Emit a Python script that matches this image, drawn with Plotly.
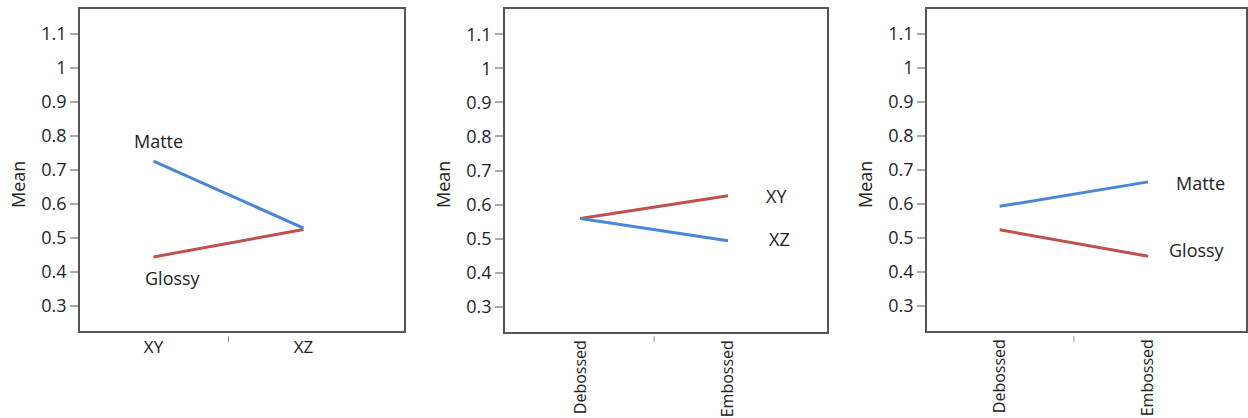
import plotly.graph_objects as go

# ---- data ----
orientation_cats = ["XY", "XZ"]
texture_cats = ["Debossed", "Embossed"]

# Panel 1: finish by orientation
p1_matte = [0.726, 0.529]
p1_glossy = [0.444, 0.525]
# Panel 2: orientation by texture
p2_xy = [0.559, 0.626]
p2_xz = [0.559, 0.494]
# Panel 3: finish by texture
p3_matte = [0.593, 0.665]
p3_glossy = [0.524, 0.446]

BLUE = "#4a86d8"
RED = "#c0504d"
TXT = "#222222"
FONT = "Open Sans"

W, H = 1248, 418

def px_x(p):
    return p / W

def px_y(p):
    return 1 - p / H

panels = [
    dict(x0=80, x1=404, y0=9, y1=331, xr=[-0.49, 1.67], cats=orientation_cats, angle=0, fs=17),
    dict(x0=505, x1=827, y0=9, y1=332, xr=[-0.51, 1.67], cats=texture_cats, angle=-90, fs=16),
    dict(x0=927, x1=1246, y0=9, y1=331, xr=[-0.49, 1.66], cats=texture_cats, angle=-90, fs=16),
]

series = [
    [(p1_glossy, RED), (p1_matte, BLUE)],
    [(p2_xy, RED), (p2_xz, BLUE)],
    [(p3_glossy, RED), (p3_matte, BLUE)],
]

labels = [
    [("Matte", 0.03, 0.785), ("Glossy", 0.13, 0.382)],
    [("XY", 1.33, 0.626), ("XZ", 1.35, 0.50)],
    [("Matte", 1.35, 0.662), ("Glossy", 1.33, 0.465)],
]

fig = go.Figure()
annotations = []
shapes = []
for i, (pan, ser, labs) in enumerate(zip(panels, series, labels), start=1):
    xa = "x" if i == 1 else f"x{i}"
    ya = "y" if i == 1 else f"y{i}"
    for vals, col in ser:
        fig.add_trace(go.Scatter(
            x=[0, 1], y=vals, mode="lines",
            line=dict(color=col, width=3),
            xaxis=xa, yaxis=ya, showlegend=False, hoverinfo="skip",
        ))
    common_line = dict(showline=True, linecolor="#555555", linewidth=1.5, mirror=True,
                       showgrid=False, zeroline=False, automargin=False)
    fig.layout[f"xaxis{'' if i == 1 else i}"] = dict(
        domain=[px_x(pan["x0"]), px_x(pan["x1"])],
        anchor=ya, range=pan["xr"],
        tickmode="array", tickvals=[0, 1], ticktext=pan["cats"],
        ticks="", tickangle=pan["angle"],
        tickfont=dict(family=FONT, size=pan["fs"], color=TXT),
        **common_line,
    )
    fig.layout[f"yaxis{'' if i == 1 else i}"] = dict(
        domain=[px_y(pan["y1"]), px_y(pan["y0"])],
        anchor=xa, range=[0.226, 1.174],
        tickmode="array",
        tickvals=[0.3, 0.4, 0.5, 0.6, 0.7, 0.8, 0.9, 1.0, 1.1],
        ticktext=["0.3", "0.4", "0.5", "0.6", "0.7", "0.8", "0.9", "1", "1.1"],
        ticks="outside", ticklen=8, tickcolor="#aaaaaa", tickwidth=1.5,
        tickfont=dict(family=FONT, size=18, color="#1e1e2e"),
        **common_line,
    )
    # separator tick between categories
    shapes.append(dict(type="line", xref=xa, yref="paper", x0=0.5, x1=0.5,
                       y0=px_y(336), y1=px_y(342),
                       line=dict(color="#999999", width=1)))
    # y title
    annotations.append(dict(text="Mean", xref="paper", yref="paper",
                            x=px_x(pan["x0"] - 62), y=px_y(185), textangle=-90,
                            showarrow=False, xanchor="center", yanchor="middle",
                            font=dict(family=FONT, size=18, color=TXT)))
    for txt, lx, ly in labs:
        annotations.append(dict(text=txt, xref=xa, yref=ya, x=lx, y=ly,
                                showarrow=False, xanchor="center", yanchor="middle",
                                font=dict(family=FONT, size=18, color=TXT)))

fig.update_layout(
    width=W, height=H,
    margin=dict(l=0, r=0, t=0, b=0, autoexpand=False),
    paper_bgcolor="white", plot_bgcolor="white",
    annotations=annotations, shapes=shapes,
    showlegend=False,
)

fig.write_html(
    "out.html",
    config={"displayModeBar": False},
    post_script="document.body.style.margin='0';document.documentElement.style.overflow='hidden';",
)
